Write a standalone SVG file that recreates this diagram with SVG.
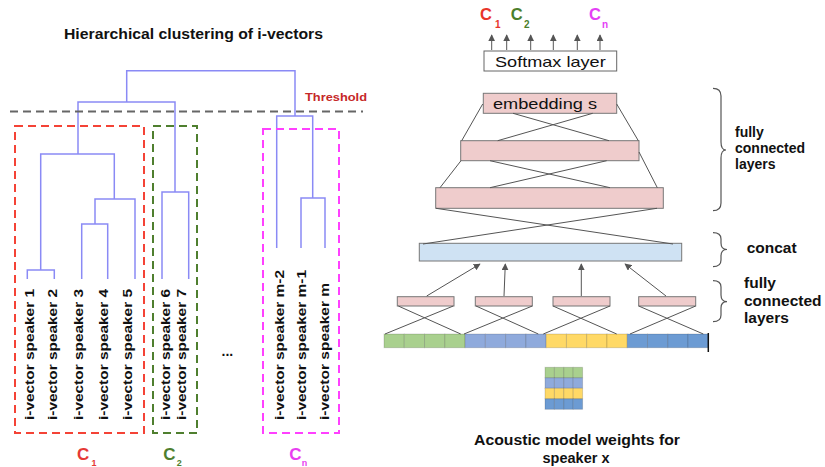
<svg xmlns="http://www.w3.org/2000/svg" width="825" height="467" viewBox="0 0 825 467">
<defs>
<style>
.t{font-family:"Liberation Sans",Arial,sans-serif;fill:#111}
.b{font-weight:bold}
.dend{fill:none;stroke:#8a8af5;stroke-width:1.5}
.lbl{font-family:"Liberation Sans",Arial,sans-serif;font-weight:bold;font-size:13.5px;fill:#111}
.pink{fill:#efcccc;stroke:#777;stroke-width:1}
.conn{stroke:#555;stroke-width:1;fill:none}
.brace{stroke:#555;stroke-width:1.2;fill:none}
.g{fill:#a9d08e}.v{fill:#8faadc}.y{fill:#ffd966}.u{fill:#6c9bd3}
.cell{stroke:#000;stroke-opacity:0.15;stroke-width:1}
</style>
<marker id="ah" viewBox="0 0 10 10" refX="9" refY="5" markerWidth="7" markerHeight="7" markerUnits="userSpaceOnUse" orient="auto">
<path d="M0,0 L10,5 L0,10 z" fill="#555"/>
</marker>
</defs>
<rect width="825" height="467" fill="#fff"/>

<!-- Left: dendrogram -->
<text id="title" class="t b" x="64" y="39" font-size="15" textLength="259" lengthAdjust="spacingAndGlyphs">Hierarchical clustering of i-vectors</text>

<g id="dendrogram">
<path class="dend" d="M126.7,102 V70.7 H295 V116" stroke="#6a6af0"/>
<path class="dend" d="M78,154 V102 H175 V192"/>
<path class="dend" d="M40.7,270 V154 H114.3 V199"/>
<path class="dend" d="M27.3,279 V270 H54.3 V279"/>
<path class="dend" d="M95,224 V199 H135 V279"/>
<path class="dend" d="M81.7,279 V224 H107.7 V279"/>
<path class="dend" d="M162,279 V192 H188.7 V279"/>
<path class="dend" d="M276.7,248 V116 H312.7 V198"/>
<path class="dend" d="M301,248 V198 H325 V248"/>
</g>

<g id="threshold">
<path d="M10,111.5 H363" stroke="#666" stroke-width="2" stroke-dasharray="8 5"/>
<text class="t b" x="305" y="100.7" font-size="11.5" style="fill:#c62828" textLength="62" lengthAdjust="spacingAndGlyphs">Threshold</text>
</g>

<g id="cluster-c1">
<rect x="15" y="126" width="129" height="307" fill="none" stroke="#f44336" stroke-width="2" stroke-dasharray="8 5"/>
<text class="t b" x="77" y="460" font-size="17" style="fill:#e53935">C</text>
<text class="t b" x="91.5" y="465.5" font-size="9" style="fill:#e53935">1</text>
</g>
<g id="cluster-c2">
<rect x="153" y="126" width="44" height="307" fill="none" stroke="#4f7f2f" stroke-width="2" stroke-dasharray="8 5"/>
<text class="t b" x="163.3" y="460" font-size="17" style="fill:#4f7f2f">C</text>
<text class="t b" x="176.7" y="465.5" font-size="9" style="fill:#4f7f2f">2</text>
</g>
<g id="cluster-cn">
<rect x="263" y="129" width="76" height="304" fill="none" stroke="#ff40ff" stroke-width="2" stroke-dasharray="8 5"/>
<text class="t b" x="289.3" y="460" font-size="17" style="fill:#e83ef0">C</text>
<text class="t b" x="301.7" y="465.5" font-size="9" style="fill:#e83ef0">n</text>
</g>

<g id="leaf-labels">
<text class="lbl" transform="translate(33.5,420) rotate(-90)" textLength="131" lengthAdjust="spacingAndGlyphs">i-vector speaker 1</text>
<text class="lbl" transform="translate(56.5,420) rotate(-90)" textLength="131" lengthAdjust="spacingAndGlyphs">i-vector speaker 2</text>
<text class="lbl" transform="translate(83,420) rotate(-90)" textLength="131" lengthAdjust="spacingAndGlyphs">i-vector speaker 3</text>
<text class="lbl" transform="translate(108,420) rotate(-90)" textLength="131" lengthAdjust="spacingAndGlyphs">i-vector speaker 4</text>
<text class="lbl" transform="translate(132.3,420) rotate(-90)" textLength="131" lengthAdjust="spacingAndGlyphs">i-vector speaker 5</text>
<text class="lbl" transform="translate(170,420) rotate(-90)" textLength="131" lengthAdjust="spacingAndGlyphs">i-vector speaker 6</text>
<text class="lbl" transform="translate(185.5,420) rotate(-90)" textLength="131" lengthAdjust="spacingAndGlyphs">i-vector speaker 7</text>
<text class="lbl" transform="translate(284,420) rotate(-90)" textLength="150" lengthAdjust="spacingAndGlyphs">i-vector speaker m-2</text>
<text class="lbl" transform="translate(305.5,420) rotate(-90)" textLength="150" lengthAdjust="spacingAndGlyphs">i-vector speaker m-1</text>
<text class="lbl" transform="translate(329,420) rotate(-90)" textLength="137" lengthAdjust="spacingAndGlyphs">i-vector speaker m</text>
<text class="t b" x="221.5" y="356" font-size="14">...</text>
</g>

<!-- Right: network -->
<g id="outputs">
<text class="t b" x="480" y="20" font-size="16.5" style="fill:#e8352a">C</text>
<text class="t b" x="495" y="28" font-size="10" style="fill:#e8352a">1</text>
<text class="t b" x="510.7" y="20" font-size="16.5" style="fill:#4b7f2b">C</text>
<text class="t b" x="524" y="28" font-size="10" style="fill:#4b7f2b">2</text>
<text class="t b" x="589" y="20" font-size="16.5" style="fill:#e43ff5">C</text>
<text class="t b" x="602" y="28" font-size="10" style="fill:#e43ff5">n</text>
</g>

<g id="softmax">
<rect x="484" y="51" width="132.7" height="20" fill="#fff" stroke="#666" stroke-width="1"/>
<text class="t" x="495" y="66.7" font-size="14.5" textLength="110.7" lengthAdjust="spacingAndGlyphs">Softmax layer</text>
</g>

<g id="embedding">
<rect class="pink" x="483.3" y="93.3" width="133.4" height="20"/>
<text class="t" x="493" y="109.3" font-size="15" textLength="104" lengthAdjust="spacingAndGlyphs">embedding s</text>
</g>
<g id="fc2"><rect class="pink" x="460.7" y="140.7" width="178.3" height="20"/></g>
<g id="fc3"><rect class="pink" x="435.7" y="187.7" width="227.6" height="20.6"/></g>
<g id="concat"><rect x="419.3" y="243.3" width="262.4" height="17.7" fill="#cfe2f3" stroke="#777" stroke-width="1"/></g>
<g id="fc-small-1"><rect class="pink" x="397.3" y="296.7" width="56.7" height="9.3"/></g>
<g id="fc-small-2"><rect class="pink" x="475.3" y="296.7" width="57" height="9.3"/></g>
<g id="fc-small-3"><rect class="pink" x="553" y="296.7" width="57" height="9.3"/></g>
<g id="fc-small-4"><rect class="pink" x="638.7" y="296.7" width="57" height="9.3"/></g>

<g id="input-strip">
<rect class="g cell" x="384" y="334" width="20.27" height="13.7"/>
<rect class="g cell" x="404.27" y="334" width="20.27" height="13.7"/>
<rect class="g cell" x="424.54" y="334" width="20.27" height="13.7"/>
<rect class="g cell" x="444.81" y="334" width="20.27" height="13.7"/>
<rect class="v cell" x="465.08" y="334" width="20.27" height="13.7"/>
<rect class="v cell" x="485.35" y="334" width="20.27" height="13.7"/>
<rect class="v cell" x="505.62" y="334" width="20.27" height="13.7"/>
<rect class="v cell" x="525.89" y="334" width="20.27" height="13.7"/>
<rect class="y cell" x="546.16" y="334" width="20.27" height="13.7"/>
<rect class="y cell" x="566.43" y="334" width="20.27" height="13.7"/>
<rect class="y cell" x="586.7" y="334" width="20.27" height="13.7"/>
<rect class="y cell" x="606.97" y="334" width="20.27" height="13.7"/>
<rect class="u cell" x="627.24" y="334" width="20.27" height="13.7"/>
<rect class="u cell" x="647.51" y="334" width="20.27" height="13.7"/>
<rect class="u cell" x="667.78" y="334" width="20.27" height="13.7"/>
<rect class="u cell" x="688.05" y="334" width="20.27" height="13.7"/>
<path d="M708.3,333 V352" stroke="#111" stroke-width="1.5"/>
</g>

<g id="weights-grid">
<rect class="g cell" x="545" y="367.3" width="9.4" height="10.5"/><rect class="g cell" x="554.4" y="367.3" width="9.4" height="10.5"/><rect class="g cell" x="563.8" y="367.3" width="9.4" height="10.5"/><rect class="g cell" x="573.2" y="367.3" width="9.4" height="10.5"/>
<rect class="v cell" x="545" y="377.8" width="9.4" height="10.5"/><rect class="v cell" x="554.4" y="377.8" width="9.4" height="10.5"/><rect class="v cell" x="563.8" y="377.8" width="9.4" height="10.5"/><rect class="v cell" x="573.2" y="377.8" width="9.4" height="10.5"/>
<rect class="y cell" x="545" y="388.3" width="9.4" height="10.5"/><rect class="y cell" x="554.4" y="388.3" width="9.4" height="10.5"/><rect class="y cell" x="563.8" y="388.3" width="9.4" height="10.5"/><rect class="y cell" x="573.2" y="388.3" width="9.4" height="10.5"/>
<rect class="u cell" x="545" y="398.8" width="9.4" height="10.5"/><rect class="u cell" x="554.4" y="398.8" width="9.4" height="10.5"/><rect class="u cell" x="563.8" y="398.8" width="9.4" height="10.5"/><rect class="u cell" x="573.2" y="398.8" width="9.4" height="10.5"/>
<text class="t b" x="474" y="445" font-size="14.5" textLength="206" lengthAdjust="spacingAndGlyphs">Acoustic model weights for</text>
<text class="t b" x="576" y="463" font-size="14.5" text-anchor="middle">speaker x</text>
</g>

<g id="annotations">
<path class="brace" d="M713,88.3 Q721,88.3 721,96 V142 Q721,150 726,150 Q721,150 721,158 V203 Q721,210.7 713,210.7"/>
<text class="t b" x="735" y="136.7" font-size="14">fully</text>
<text class="t b" x="735" y="153.3" font-size="14">connected</text>
<text class="t b" x="735" y="169.3" font-size="14">layers</text>
<path class="brace" d="M713,232.7 Q721,232.7 721,239 V243 Q721,249.5 727,249.5 Q721,249.5 721,256 V260 Q721,266.7 713,266.7"/>
<text class="t b" x="746.7" y="253.3" font-size="15.5">concat</text>
<path class="brace" d="M713,280.7 Q721,280.7 721,287 V295 Q721,301.7 727,301.7 Q721,301.7 721,308 V315 Q721,321.7 713,321.7"/>
<text class="t b" x="744" y="288.3" font-size="15.5">fully</text>
<text class="t b" x="744" y="306" font-size="15.5">connected</text>
<text class="t b" x="744" y="322.7" font-size="15.5">layers</text>
</g>

<g id="connectors">
<path class="conn" marker-end="url(#ah)" d="M491.7,50 V35"/>
<path class="conn" marker-end="url(#ah)" d="M506.7,50 V35"/>
<path class="conn" marker-end="url(#ah)" d="M530.7,50 V35"/>
<path class="conn" marker-end="url(#ah)" d="M553.3,50 V35"/>
<path class="conn" marker-end="url(#ah)" d="M577.3,50 V35"/>
<path class="conn" marker-end="url(#ah)" d="M600,50 V35"/>
<path class="conn" d="M482.7,104 L461.7,140.7 M616.7,104 L638.3,140.7 M513,113.3 L609,140.7 M592.7,113.3 L497.7,140.7"/>
<path class="conn" d="M461,160.7 L440,187.7 M639,152 L657.3,187.7 M490,187.7 L606.7,160.7 M610,187.7 L490,160.7"/>
<path class="conn" d="M436,208.3 L673,244 M657,208.3 L423,244"/>
<path class="conn" marker-end="url(#ah)" d="M426.7,296 L480,264"/>
<path class="conn" marker-end="url(#ah)" d="M504,296 L505.3,264"/>
<path class="conn" marker-end="url(#ah)" d="M581.3,296 L581.3,264"/>
<path class="conn" marker-end="url(#ah)" d="M666,296 L625,264"/>
<path class="conn" d="M398.3,306 L460.7,334 M453.3,306 L385,334 M476,306 L538.3,334 M532.3,306 L464,334 M553,306 L616.7,334 M610,306 L543.3,334 M638.7,306 L703.3,334 M695.7,306 L630,334"/>
</g>
</svg>
